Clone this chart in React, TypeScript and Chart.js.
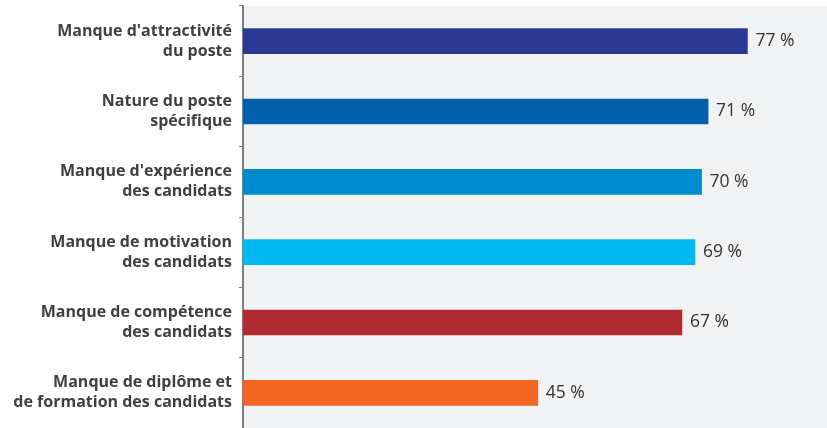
import React, { useEffect, useRef } from "react";
import { Chart, registerables } from "chart.js";

Chart.register(...registerables);

const categories: string[][] = [
  ["Manque d'attractivité", "du poste"],
  ["Nature du poste", "spécifique"],
  ["Manque d'expérience", "des candidats"],
  ["Manque de motivation", "des candidats"],
  ["Manque de compétence", "des candidats"],
  ["Manque de diplôme et", "de formation des candidats"],
];
const values: number[] = [77, 71, 70, 69, 67, 45];
const barColors: string[] = ["#2A3894", "#0060AC", "#008BCF", "#00B9F0", "#B12A31", "#F26522"];
const valueLabels: string[] = values.map((v) => `${v} %`);

const bgPlugin = {
  id: "areaBg",
  beforeDraw(chart: any) {
    const { ctx, chartArea } = chart;
    ctx.save();
    ctx.fillStyle = "#F1F2F4";
    ctx.fillRect(chartArea.left, chartArea.top, chartArea.right - chartArea.left, chartArea.bottom - chartArea.top);
    ctx.restore();
  },
};

const valuePlugin = {
  id: "valueLabels",
  afterDatasetsDraw(chart: any) {
    const { ctx } = chart;
    const meta = chart.getDatasetMeta(0);
    ctx.save();
    ctx.font = "17.5px 'Open Sans'";
    ctx.fillStyle = "#333333";
    ctx.textAlign = "left";
    ctx.textBaseline = "middle";
    meta.data.forEach((bar: any, i: number) => {
      ctx.fillText(valueLabels[i], bar.x + 8, bar.y);
    });
    ctx.restore();
  },
};

export default function App() {
  const ref = useRef<HTMLCanvasElement>(null);
  useEffect(() => {
    const chart = new Chart(ref.current!, {
      type: "bar",
      data: {
        labels: categories,
        datasets: [
          {
            data: values,
            backgroundColor: barColors,
            barThickness: 25,
          },
        ],
      },
      options: {
        indexAxis: "y",
        animation: false,
        responsive: false,
        maintainAspectRatio: false,
        layout: { padding: { top: 6, left: 0, right: 0, bottom: 0 } },
        plugins: { legend: { display: false }, tooltip: { enabled: false } },
        scales: {
          x: {
            display: false,
            min: 0,
            max: 89.15,
          },
          y: {
            afterFit: (scale: any) => {
              scale.width = 243;
              scale.paddingTop = 0;
              scale.paddingBottom = 0;
            },
            border: { display: true, color: "#7F7F7F", width: 2 },
            grid: { display: true, drawOnChartArea: false, tickLength: 4, color: "#7F7F7F", lineWidth: 1 },
            ticks: {
              color: "#404040",
              padding: 7,
              font: { family: "'Open Sans'", size: 16, weight: "bold", lineHeight: 1.25 },
            },
          },
        },
      },
      plugins: [bgPlugin, valuePlugin],
    });
    return () => chart.destroy();
  }, []);
  return (
    <div style={{ position: "fixed", left: 0, top: 0, width: 827, height: 428, background: "#fff" }}>
      <canvas ref={ref} width={827} height={428} style={{ display: "block" }} />
    </div>
  );
}
